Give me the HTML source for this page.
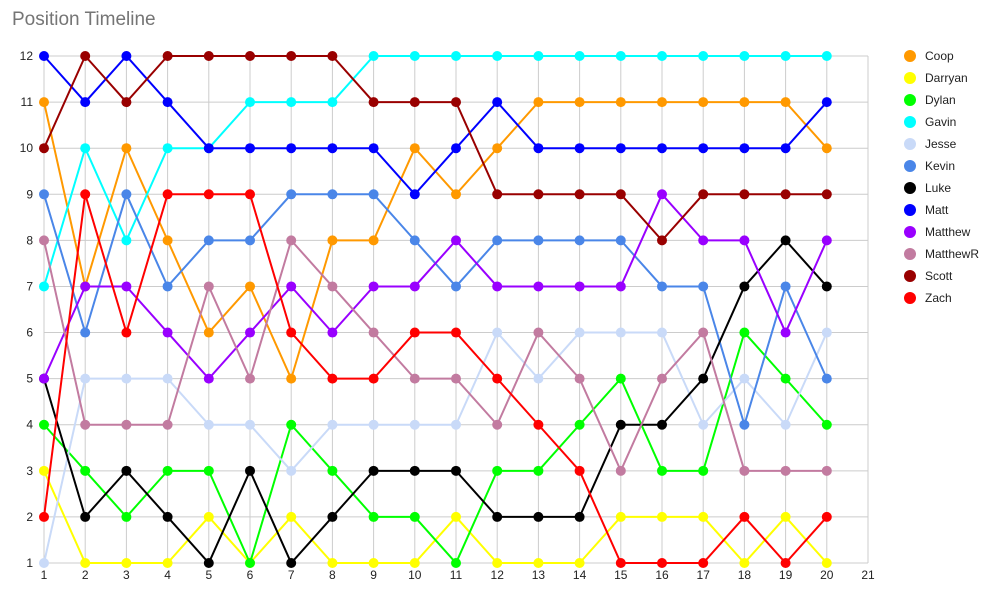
<!DOCTYPE html><html><head><style>body{margin:0;background:#fff}svg{display:block}</style></head><body>
<svg id="s" width="985" height="591" xmlns="http://www.w3.org/2000/svg" font-family="Liberation Sans, Arial, sans-serif">
<text x="12" y="25" font-size="19" fill="#757575">Position Timeline</text>
</svg>
<script>
const s=document.getElementById('s'),NS='http://www.w3.org/2000/svg';
const X=i=>44+(i-1)*41.2,Y=v=>563-(v-1)*46.09;
function el(t,a,txt){const e=document.createElementNS(NS,t);for(const k in a)e.setAttribute(k,a[k]);if(txt!==undefined)e.textContent=txt;s.appendChild(e);return e;}
for(let i=1;i<=21;i++){el('line',{x1:X(i),x2:X(i),y1:56,y2:563,stroke:'#ccc','stroke-width':1});el('text',{x:X(i),y:579,'font-size':12,'text-anchor':'middle',fill:'#222'},i);}
for(let v=1;v<=12;v++){el('line',{x1:44,x2:868,y1:Y(v),y2:Y(v),stroke:'#ccc','stroke-width':1});el('text',{x:33,y:Y(v)+4,'font-size':12,'text-anchor':'end',fill:'#222'},v);}
const D=[
['Coop','#ff9900',[11,7,10,8,6,7,5,8,8,10,9,10,11,11,11,11,11,11,11,10]],
['Darryan','#ffff00',[3,1,1,1,2,1,2,1,1,1,2,1,1,1,2,2,2,1,2,1]],
['Dylan','#00ff00',[4,3,2,3,3,1,4,3,2,2,1,3,3,4,5,3,3,6,5,4]],
['Gavin','#00ffff',[7,10,8,10,10,11,11,11,12,12,12,12,12,12,12,12,12,12,12,12]],
['Jesse','#c9daf8',[1,5,5,5,4,4,3,4,4,4,4,6,5,6,6,6,4,5,4,6]],
['Kevin','#4a86e8',[9,6,9,7,8,8,9,9,9,8,7,8,8,8,8,7,7,4,7,5]],
['Luke','#000000',[5,2,3,2,1,3,1,2,3,3,3,2,2,2,4,4,5,7,8,7]],
['Matt','#0000ff',[12,11,12,11,10,10,10,10,10,9,10,11,10,10,10,10,10,10,10,11]],
['Matthew','#9900ff',[5,7,7,6,5,6,7,6,7,7,8,7,7,7,7,9,8,8,6,8]],
['MatthewR','#c27ba0',[8,4,4,4,7,5,8,7,6,5,5,4,6,5,3,5,6,3,3,3]],
['Scott','#990000',[10,12,11,12,12,12,12,12,11,11,11,9,9,9,9,8,9,9,9,9]],
['Zach','#ff0000',[2,9,6,9,9,9,6,5,5,6,6,5,4,3,1,1,1,2,1,2]]];
D.forEach(([n,c,d],k)=>{
 el('polyline',{points:d.map((v,i)=>X(i+1)+','+Y(v)).join(' '),fill:'none',stroke:c,'stroke-width':2});
 d.forEach((v,i)=>el('circle',{cx:X(i+1),cy:Y(v),r:5,fill:c}));
 const ly=56+k*22;
 el('circle',{cx:910,cy:ly,r:6,fill:c});
 el('text',{x:925,y:ly+4,'font-size':12,fill:'#222'},n);
});
</script></body></html>
